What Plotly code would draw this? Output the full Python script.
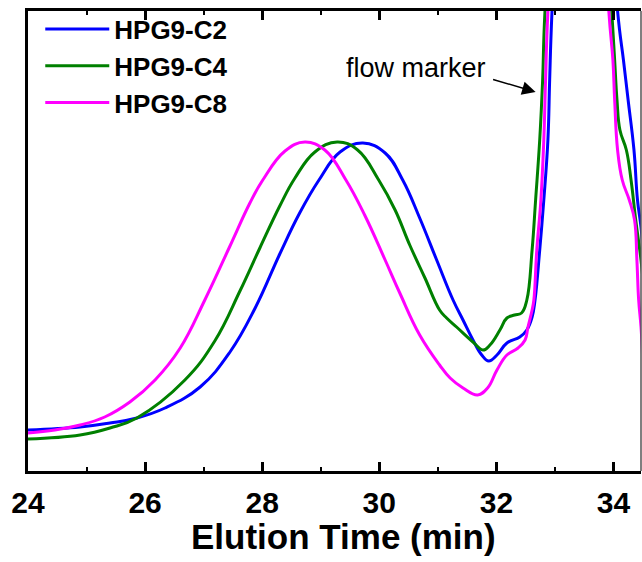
import plotly.graph_objects as go

# Elution time (min) and detector response (a.u.)
t_c2 = [24.00, 24.89, 25.40, 25.86, 26.34, 26.94, 27.45, 27.88, 28.30, 28.64, 28.97, 29.33,
        29.72, 30.10, 30.40, 30.69, 30.98, 31.26, 31.43, 31.60, 31.75, 31.87, 32.01, 32.18,
        32.40, 32.52, 32.61, 32.66, 32.74, 32.81, 32.88, 32.91, 32.95, 33.42, 34.07, 34.17,
        34.25, 34.35, 34.41, 34.47, 34.52]
y_c2 = [41, 44, 48, 53, 63, 84, 119, 163, 217, 258, 291, 319,
        328, 318, 291, 253, 211, 171, 151, 131, 116, 110, 116, 128,
        134, 141, 154, 171, 221, 271, 331, 391, 460, 1000, 460, 411,
        371, 321, 271, 244, 211]

t_c4 = [24.00, 24.89, 25.40, 25.86, 26.68, 27.19, 27.62, 27.96, 28.30, 28.56, 28.90, 29.28,
        29.63, 29.99, 30.27, 30.52, 30.78, 31.03, 31.15, 31.32, 31.60, 31.77, 31.89, 32.06,
        32.18, 32.31, 32.43, 32.52, 32.61, 32.67, 32.74, 32.79, 32.83, 33.42, 33.97, 34.02,
        34.06, 34.11, 34.22, 34.30, 34.38, 34.47, 34.52]
y_c4 = [32, 36, 43, 53, 91, 130, 180, 223, 265, 293, 319, 329,
        321, 291, 261, 226, 193, 161, 153, 144, 129, 121, 126, 141,
        153, 156, 158, 171, 221, 271, 331, 391, 460, 1000, 460, 411,
        371, 341, 321, 291, 251, 211, 181]

t_c8 = [24.00, 24.46, 24.89, 25.31, 25.74, 26.17, 26.60, 27.02, 27.45, 27.79, 28.01, 28.39,
        28.73, 29.07, 29.43, 29.75, 30.10, 30.35, 30.69, 31.03, 31.21, 31.43, 31.68, 31.85,
        32.01, 32.18, 32.37, 32.49, 32.54, 32.61, 32.64, 32.69, 32.76, 32.81, 32.84, 32.88,
        33.42, 33.92, 33.99, 34.02, 34.07, 34.15, 34.27, 34.36, 34.40, 34.43, 34.47, 34.50]
y_c8 = [38, 41, 46, 54, 69, 91, 123, 171, 225, 268, 291, 320,
        329, 321, 291, 256, 211, 178, 136, 106, 93, 83, 76, 83,
        101, 116, 123, 131, 144, 161, 171, 221, 271, 331, 391, 460,
        1000, 460, 411, 371, 321, 291, 271, 251, 211, 171, 144, 111]

series = [
    ("HPG9-C2", t_c2, y_c2, "#0000FF"),
    ("HPG9-C4", t_c4, y_c4, "#008000"),
    ("HPG9-C8", t_c8, y_c8, "#FF00FF"),
]

x_ticks = [24, 26, 28, 30, 32, 34]

FONT = "Liberation Sans, Arial, sans-serif"

fig = go.Figure()
for name, t, y, c in series:
    fig.add_trace(go.Scatter(x=t, y=y, name=name, mode="lines",
                             line=dict(color=c, width=3, shape="spline", smoothing=1.2)))

fig.update_layout(
    width=642, height=562,
    margin=dict(l=28, r=1, t=11, b=91),
    paper_bgcolor="white", plot_bgcolor="white",
    showlegend=True,
    legend=dict(x=0.02, y=1.012, xanchor="left", yanchor="top",
                font=dict(family=FONT, size=26, color="black", weight="bold"),
                itemwidth=64, tracegroupgap=0, bgcolor="rgba(0,0,0,0)",
                borderwidth=0),
    xaxis=dict(range=[24, 34.47], tickvals=x_ticks, ticktext=[str(v) for v in x_ticks],
               ticks="inside", ticklen=9, tickwidth=2.5, tickcolor="black",
               minor=dict(ticks="inside", ticklen=4, tickwidth=2, dtick=1, tickcolor="black"),
               showline=True, linecolor="black", linewidth=3, mirror="ticks",
               showgrid=False, zeroline=False, ticklabelstandoff=3,
               tickfont=dict(family=FONT, size=30, color="black", weight="bold")),
    yaxis=dict(range=[0, 460], showticklabels=False, ticks="", showgrid=False,
               zeroline=False, showline=True, linecolor="black", linewidth=3),
)

# right frame line
fig.add_shape(type="line", xref="paper", yref="paper", x0=1, x1=1, y0=0, y1=1,
              line=dict(color="#555555", width=1.5))

# axis title
fig.add_annotation(text="Elution Time (min)", xref="paper", yref="paper",
                   x=0.514, y=-0.143, xanchor="center", yanchor="middle", showarrow=False,
                   font=dict(family=FONT, size=35, color="black", weight="bold"))

# flow marker label and arrow
fig.add_annotation(text="flow marker", xref="x", yref="y", x=30.62, y=403,
                   xanchor="center", yanchor="middle", showarrow=False,
                   font=dict(family=FONT, size=27, color="black"))
fig.add_annotation(text="", xref="x", yref="y", x=32.67, y=379,
                   ax=-44, ay=-13, showarrow=True, arrowhead=2, arrowsize=1.8,
                   arrowwidth=1.5, arrowcolor="black")

fig.write_html("out.html")
